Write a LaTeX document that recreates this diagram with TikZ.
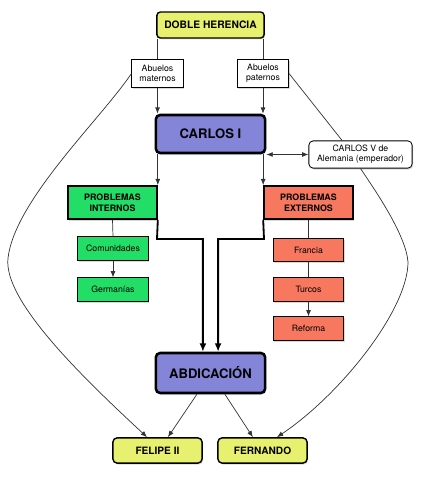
\documentclass[tikz,border=0pt]{standalone}
\usepackage{fontspec}
\setmainfont{TeX Gyre Heros}
\usepackage{tikz}
\usetikzlibrary{arrows.meta,positioning,calc,shadows}
\definecolor{yellowbox}{HTML}{E8F070}
\definecolor{bluebox}{HTML}{8484D8}
\definecolor{greenbox}{HTML}{22DD66}
\definecolor{salmonbox}{HTML}{F7785F}

\begin{document}
\begin{tikzpicture}[
  x=0.025cm, y=-0.025cm,
  box/.style={draw,align=center,inner sep=0pt,drop shadow={shadow xshift=0.7pt,shadow yshift=-1pt,opacity=0.3}},
  topbox/.style={box,fill=yellowbox,rounded corners=2.5pt,line width=1pt,minimum width=2.68cm,minimum height=0.65cm,font=\fontsize{7.3}{8.5}\selectfont\bfseries},
  abuelo/.style={box,fill=white,line width=0.6pt,minimum width=1.28cm,minimum height=0.68cm,font=\fontsize{6.2}{7.3}\selectfont},
  big/.style={box,fill=bluebox,rounded corners=3pt,line width=1.8pt,minimum width=2.73cm,minimum height=0.95cm,font=\fontsize{9.3}{11}\selectfont\bfseries},
  note/.style={box,fill=white,rounded corners=3pt,line width=0.6pt,minimum width=2.58cm,minimum height=0.68cm,font=\fontsize{6.2}{7.3}\selectfont},
  problem/.style={box,line width=1pt,minimum width=2.23cm,minimum height=0.83cm,font=\fontsize{6.3}{7.8}\selectfont\bfseries},
  small/.style={box,line width=0.6pt,minimum width=1.77cm,minimum height=0.58cm,font=\fontsize{6.2}{7.3}\selectfont},
  heir/.style={box,fill=yellowbox,rounded corners=3pt,line width=1pt,minimum width=2.23cm,minimum height=0.63cm,font=\fontsize{7.2}{8.5}\selectfont\bfseries},
  line/.style={draw=black!80,line width=0.5pt},
  arr/.style={-{Latex[length=4.5pt,width=3.5pt]}},
  heavy/.style={line width=1.3pt,-{Latex[length=6pt,width=5pt]}}
]
\useasboundingbox (0,0) rectangle (427,480);
\node[topbox] (herencia) at (210.5,25) {DOBLE HERENCIA};
\node[abuelo] (maternos) at (157.5,73.5) {Abuelos\\maternos};
\node[abuelo] (paternos) at (263,73.5) {Abuelos\\paternos};
\node[big] (carlos) at (210.5,134) {CARLOS I};
\node[note] (emperador) at (360.5,154.5) {CARLOS V de\\Alemania (emperador)};
\node[problem,fill=greenbox] (internos) at (112.5,202.5) {PROBLEMAS\\INTERNOS};
\node[problem,fill=salmonbox] (externos) at (308.5,202.5) {PROBLEMAS\\EXTERNOS};
\node[small,fill=greenbox] (comunidades) at (113,248.5) {Comunidades};
\node[small,fill=greenbox] (germanias) at (113,289.5) {Germanías};
\node[small,fill=salmonbox] (francia) at (308.5,250) {Francia};
\node[small,fill=salmonbox] (turcos) at (308.5,289.5) {Turcos};
\node[small,fill=salmonbox] (reforma) at (308.5,328.5) {Reforma};
\node[big,minimum height=1cm] (abdicacion) at (210.5,373) {ABDICACIÓN};
\node[heir] (felipe) at (157.5,450.5) {FELIPE II};
\node[heir] (fernando) at (262.5,450.5) {FERNANDO};
\coordinate (bendL) at (157,239);
\coordinate (bendR) at (264,239);
% herencia y abuelos
\draw[line] (herencia.south -| maternos) -- (maternos.north);
\draw[line] (herencia.south -| paternos) -- (paternos.north);
\draw[line,arr] (maternos.south) -- (maternos.south |- carlos.north);
\draw[line,arr] (paternos.south) -- (paternos.south |- carlos.north);
\draw[line,{Latex[length=4.5pt,width=3.5pt]}-{Latex[length=4.5pt,width=3.5pt]}] (carlos.east |- emperador.west) -- (emperador.west);
% problemas
\draw[line,arr] (internos.north east |- carlos.south) -- (internos.north east);
\draw[line,arr] (externos.north west |- carlos.south) -- (externos.north west);
\draw[line] (internos.south) -- (comunidades.north);
\draw[line,arr] (comunidades) -- (germanias);
\draw[line] (externos.south) -- (francia.north);
\draw[line] (francia) -- (turcos);
\draw[line,arr] (turcos) -- (reforma);
\draw[heavy] (internos.south east) -- (bendL) -| ([xshift=-0.19cm]abdicacion.north);
\draw[heavy] (externos.south west) -- (bendR) -| ([xshift=0.19cm]abdicacion.north);
% sucesion
\draw[line,arr] ([xshift=-0.34cm]abdicacion.south) -- ([xshift=0.26cm]felipe.north);
\draw[line,arr] ([xshift=0.36cm]abdicacion.south) -- ([xshift=-0.24cm]fernando.north);
\draw[line,arr] (maternos.west) .. controls (100,120) and (15,200) .. (8,258) .. controls (3,300) and (80,375) .. ([xshift=-0.26cm]felipe.north);
\draw[line] (paternos.east) -- ([xshift=-0.46cm]emperador.north);
\draw[line,arr] (emperador.south) .. controls (375,190) and (406,235) .. (408,262) .. controls (408,310) and (340,395) .. ([xshift=0.36cm]fernando.north);
\end{tikzpicture}
\end{document}
